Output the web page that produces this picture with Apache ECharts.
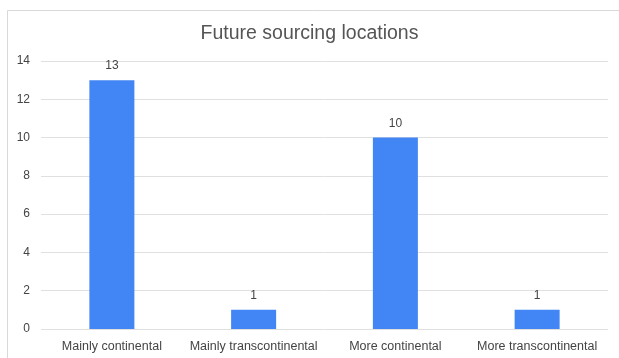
<!DOCTYPE html>
<html>
<head>
<meta charset="utf-8">
<script src="https://cdn.jsdelivr.net/npm/echarts@6/dist/echarts.min.js"></script>
<style>
  html, body { margin: 0; padding: 0; background: #fff; }
  #chart { width: 619px; height: 358px; }
</style>
</head>
<body>
<div id="chart"></div>
<script>
const categories = ['Mainly continental', 'Mainly transcontinental', 'More continental', 'More transcontinental'];
const counts = [13, 1, 10, 1];
const yTicks = [0, 2, 4, 6, 8, 10, 12, 14];

const chart = echarts.init(document.getElementById('chart'));
const font = 'Arial, "Liberation Sans", sans-serif';

chart.setOption({
  animation: false,
  backgroundColor: '#fff',
  title: {
    text: 'Future sourcing locations',
    left: 'center',
    top: 19,
    textStyle: { fontFamily: font, fontSize: 19.5, fontWeight: 'normal', color: '#555' }
  },
  graphic: [
    { type: 'line', shape: { x1: 7.5, y1: 10.5, x2: 619, y2: 10.5 }, style: { stroke: '#d9d9d9', lineWidth: 1 } },
    { type: 'line', shape: { x1: 7.5, y1: 10.5, x2: 7.5, y2: 358 }, style: { stroke: '#d9d9d9', lineWidth: 1 } }
  ],
  grid: { left: 41, right: 11, top: 61, bottom: 29, containLabel: false },
  xAxis: {
    type: 'category',
    data: categories,
    axisLine: { show: false },
    axisTick: { show: false },
    axisLabel: { fontFamily: font, fontSize: 12.5, color: '#444', margin: 11, interval: 0 }
  },
  yAxis: {
    type: 'value',
    min: yTicks[0],
    max: yTicks[yTicks.length - 1],
    interval: 2,
    axisLine: { show: false },
    axisTick: { show: false },
    axisLabel: { fontFamily: font, fontSize: 12, color: '#444', margin: 11 },
    splitLine: { lineStyle: { color: '#e0e0e0', width: 1 } }
  },
  series: [{
    type: 'bar',
    data: counts,
    barWidth: 45,
    itemStyle: { color: '#4285f4' },
    label: { show: true, position: 'top', distance: 8, fontFamily: font, fontSize: 12, color: '#444' }
  }]
});
</script>
</body>
</html>
